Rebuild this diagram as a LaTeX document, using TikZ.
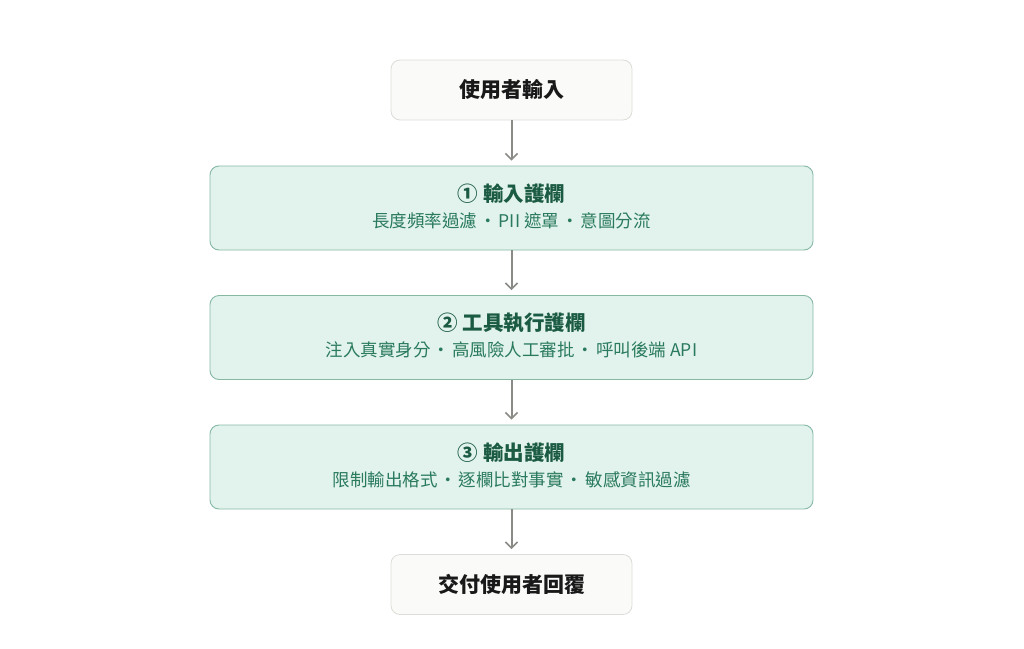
\documentclass[tikz,border=0pt]{standalone}
\usepackage{fontspec}
\setmainfont{Noto Sans CJK TC}
\usetikzlibrary{arrows.meta}
\definecolor{endfill}{HTML}{FAFAF8}
\definecolor{enddraw}{HTML}{DCDCD8}
\definecolor{guardfill}{HTML}{E1F3EC}
\definecolor{guarddraw}{HTML}{86B8A4}
\definecolor{titlegreen}{HTML}{1B5A43}
\definecolor{subgreen}{HTML}{2A7A5E}
\definecolor{arrowgray}{HTML}{8A8A86}
\newcommand{\sep}{\hspace{2pt}・\hspace{2pt}}
\tikzset{
	endbox/.style={draw=enddraw,fill=endfill,rounded corners=9pt,line width=0.8pt,
		minimum width=241pt,minimum height=60pt,font=\fontsize{21}{24}\selectfont\bfseries,text=black!90},
	guardbox/.style={draw=guarddraw,fill=guardfill,rounded corners=9pt,line width=0.9pt,
		minimum width=603pt,minimum height=84pt,align=center},
	flow/.style={-{Straight Barb[length=6pt,width=12pt,line width=1.6pt]},draw=arrowgray,line width=2pt,shorten >=5pt}
}
\begin{document}
\begin{tikzpicture}[x=1pt,y=-1pt]
\useasboundingbox (0,0) rectangle (1024,648);
%start and end
\node[endbox] (user) at (511.5,90) {使用者輸入};
\node[endbox] (reply) at (511.5,584.5) {交付使用者回覆};

%the three guard layers
\foreach \y/\name/\title/\sub in {
	208/guard1/{① 輸入護欄}/{長度頻率過濾\sep PII 遮罩\sep 意圖分流},
	337.5/guard2/{② 工具執行護欄}/{注入真實身分\sep 高風險人工審批\sep 呼叫後端 API},
	467/guard3/{③ 輸出護欄}/{限制輸出格式\sep 逐欄比對事實\sep 敏感資訊過濾}}{
	\node[guardbox] (\name) at (511.5,\y) {{\fontsize{20.5}{24}\selectfont\bfseries\color{titlegreen}\title}\\[8pt]
		{\fontsize{17.5}{20}\selectfont\color{subgreen}\sub}\\[-7pt]};
}
\draw[flow] (user) -- (guard1);
\draw[flow] (guard1) -- (guard2);
\draw[flow] (guard2) -- (guard3);
\draw[flow] (guard3) -- (reply);
\end{tikzpicture}
\end{document}
